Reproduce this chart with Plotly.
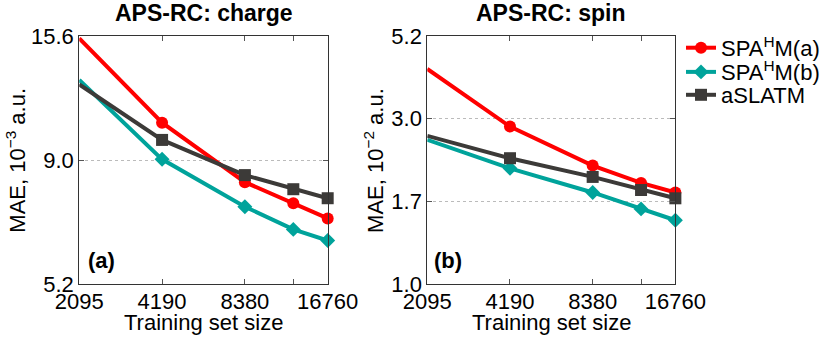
import math
import plotly.graph_objects as go
from plotly.subplots import make_subplots

# data
train_size = [2095, 4190, 8380, 12570, 16760]
x_tick_vals = [2095, 4190, 8380, 12570, 16760]
x_tick_text = ["2095", "4190", "8380", "", "16760"]

charge_spahm_a = [15.44, 10.63, 8.17, 7.44, 6.96]
charge_spahm_b = [12.84, 9.04, 7.33, 6.63, 6.31]
charge_aslatm = [12.59, 9.85, 8.43, 7.92, 7.61]

spin_spahm_a = [4.18, 2.85, 2.20, 1.96, 1.84]
spin_spahm_b = [2.61, 2.16, 1.84, 1.65, 1.53]
spin_aslatm = [2.68, 2.31, 2.04, 1.87, 1.77]

charge_ticks = [5.2, 5.2 * 3 ** 0.5, 15.6]
charge_tick_text = ["5.2", "9.0", "15.6"]
spin_ticks = [1.0, 5.2 ** (1 / 3), 5.2 ** (2 / 3), 5.2]
spin_tick_text = ["1.0", "1.7", "3.0", "5.2"]

RED = "#FF0000"
TEAL = "#00A39B"
GRAY = "#3C3A38"
FONT = "Liberation Sans"

fig = make_subplots(rows=1, cols=2)

# one small legend per entry so the rows can sit as tight as in the original
series = [
    ("SPA<sup>H</sup>M(a)", RED, "circle", 12, charge_spahm_a, spin_spahm_a, "legend"),
    ("SPA<sup>H</sup>M(b)", TEAL, "diamond", 11.5, charge_spahm_b, spin_spahm_b, "legend2"),
    ("aSLATM", GRAY, "square", 12, charge_aslatm, spin_aslatm, "legend3"),
]

for name, color, symbol, size, charge, spin, leg in series:
    for col, vals in ((1, charge), (2, spin)):
        fig.add_trace(
            go.Scatter(
                x=train_size,
                y=vals,
                mode="lines+markers",
                name=name,
                showlegend=(col == 2),
                legend=leg,
                line=dict(color=color, width=4),
                marker=dict(color=color, symbol=symbol, size=size),
                cliponaxis=False,
            ),
            row=1,
            col=col,
        )

axis_common = dict(
    showline=True,
    linecolor="#333333",
    linewidth=1,
    mirror="ticks",
    ticks="inside",
    ticklen=5,
    tickcolor="#555555",
    zeroline=False,
    automargin=False,
    tickfont=dict(family=FONT, size=22, color="black"),
)

fig.update_xaxes(
    type="log",
    range=[math.log10(2095), math.log10(16760)],
    tickvals=x_tick_vals,
    ticktext=x_tick_text,
    showgrid=False,
    ticklabelstandoff=-3,
    **axis_common,
)
fig.update_xaxes(domain=[0.0955, 0.3948], row=1, col=1)
fig.update_xaxes(domain=[0.5148, 0.8137], row=1, col=2)

fig.update_yaxes(
    type="log",
    showgrid=True,
    gridcolor="#BBBBBB",
    griddash="dot",
    gridwidth=1,
    domain=[0.1663, 0.8944],
    **axis_common,
)
fig.update_yaxes(
    range=[math.log10(5.2), math.log10(15.6)],
    tickvals=charge_ticks,
    ticktext=charge_tick_text,
    row=1,
    col=1,
)
fig.update_yaxes(
    range=[0, math.log10(5.2)],
    tickvals=spin_ticks,
    ticktext=spin_tick_text,
    row=1,
    col=2,
)

# y axis titles
for x, text in ((0.019, "MAE, 10<sup>−3</sup> a.u."), (0.4506, "MAE, 10<sup>−2</sup> a.u.")):
    fig.add_annotation(
        xref="paper", yref="paper", x=x, y=0.531, xanchor="center", yanchor="middle",
        text=text, textangle=-90, showarrow=False,
        font=dict(family=FONT, size=22, color="black"),
    )

# x axis titles
for x in (0.2452, 0.6647):
    fig.add_annotation(
        xref="paper", yref="paper", x=x, y=0.0557, xanchor="center", yanchor="middle",
        text="Training set size", showarrow=False,
        font=dict(family=FONT, size=22, color="black"),
    )

# panel titles
for x, text in ((0.2458, "<b>APS-RC: charge</b>"), (0.6639, "<b>APS-RC: spin</b>")):
    fig.add_annotation(
        xref="paper", yref="paper", x=x, y=0.962, xanchor="center", yanchor="middle",
        text=text, showarrow=False,
        font=dict(family=FONT, size=23, color="black"),
    )

# panel labels
for x, text in ((0.1036, "<b>(a)</b>"), (0.5205, "<b>(b)</b>")):
    fig.add_annotation(
        xref="paper", yref="paper", x=x, y=0.2375, xanchor="left", yanchor="middle",
        text=text, showarrow=False,
        font=dict(family=FONT, size=22, color="black"),
    )

legend_common = dict(
    x=0.8205,
    xanchor="left",
    yanchor="middle",
    font=dict(family=FONT, size=22, color="black"),
    bgcolor="rgba(0,0,0,0)",
    itemwidth=30,
)

fig.update_layout(
    width=830,
    height=341,
    margin=dict(l=0, r=0, t=0, b=0, autoexpand=False),
    plot_bgcolor="white",
    paper_bgcolor="white",
    font=dict(family=FONT, color="black"),
    legend=dict(y=0.8595, **legend_common),
    legend2=dict(y=0.7886, **legend_common),
    legend3=dict(y=0.7214, **legend_common),
)

# drop the default page margin so the figure fills the window exactly
fig.write_html(
    "out.html",
    config={"displayModeBar": False},
    post_script="document.body.style.margin = '0';",
)
